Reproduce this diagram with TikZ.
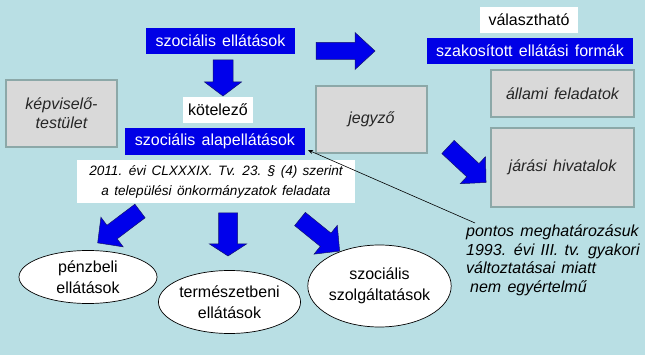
\documentclass[tikz,border=0pt]{standalone}
\usepackage{fontspec}
\setmainfont{Liberation Sans}[WordSpace=1.4]
\usetikzlibrary{shapes.geometric,arrows.meta}
\definecolor{bg}{RGB}{185,223,228}
\definecolor{boxblue}{RGB}{0,0,230}
\definecolor{grayfill}{RGB}{217,217,217}
\definecolor{grayedge}{RGB}{140,168,168}
\definecolor{arrblue}{RGB}{0,0,235}
\definecolor{arredge}{RGB}{20,20,110}
\newcommand\FatArr[6]{%
  \begin{scope}[shift={(#1,#2)},rotate=#3]
    \filldraw[fatarrow] (0,{-#6/2}) -- ({#4-#5},{-#6/2}) -- ({#4-#5},-18.5) -- (#4,0)
      -- ({#4-#5},18.5) -- ({#4-#5},{#6/2}) -- (0,{#6/2}) -- cycle;
  \end{scope}}
\tikzset{
  fatarrow/.style={fill=arrblue, draw=arredge, line width=0.5pt, line join=miter},
  bluebox/.style={fill=boxblue, text=white, inner sep=0pt, font=\fontsize{16}{19}\selectfont},
  whitebox/.style={fill=white, text=black, inner sep=0pt, font=\fontsize{16}{19}\selectfont},
  graybox/.style={fill=grayfill, draw=grayedge, line width=2pt, inner sep=0pt, align=center,
    text=black!85, font=\itshape\fontsize{16}{19}\selectfont},
  oval/.style={ellipse, draw=black, line width=0.7pt, fill=white, inner sep=0pt, align=center,
    font=\fontsize{16}{21}\selectfont},
  note/.style={inner sep=0pt, align=left, font=\itshape\fontsize{16}{18.5}\selectfont}
}
\begin{document}
\begin{tikzpicture}[x=1pt,y=-1pt]
\useasboundingbox (0,0) rectangle (645,355);
\fill[bg] (0,0) rectangle (645,355);

% blue boxes
\node[bluebox, minimum width=149pt, minimum height=26pt] (szoc) at (220.5,41) {szociális ellátások};
\node[bluebox, minimum width=180pt, minimum height=27pt] (alap) at (215,141.5) {szociális alapellátások};
\node[bluebox, minimum width=206pt, minimum height=26pt] (szak) at (530,51) {szakosított ellátási formák};

% white labels
\node[whitebox, minimum width=98pt, minimum height=26pt] (valaszt) at (529,20) {választható};
\node[whitebox, minimum width=70pt, minimum height=26pt] (kotel) at (218,110) {kötelező};
\node[fill=white, inner sep=0pt, align=center, minimum width=278pt, minimum height=43pt,
  font=\itshape\fontsize{13.6}{20}\selectfont] (cite) at (216,181.5)
  {2011. évi CLXXXIX. Tv. 23. § (4) szerint\\a települési önkormányzatok feladata};

% gray boxes
\node[graybox, minimum width=111pt, minimum height=67pt] (kepv) at (61.5,113.5) {képviselő-\\testület};
\node[graybox, minimum width=111pt, minimum height=67pt] (jegy) at (371.5,119.5) {jegyző};
\node[graybox, minimum width=143pt, minimum height=47pt] (allami) at (562.5,93.5) {állami feladatok};
\node[graybox, minimum width=143pt, minimum height=79pt] (jarasi) at (562.5,167.5) {járási hivatalok};

% ellipses
\node[oval, minimum width=138pt, minimum height=53pt] (penz) at (88,277) {pénzbeli\\ellátások};
\node[oval, minimum width=134pt, minimum height=63pt] (term) at (229.5,302) {természetbeni\\ellátások};
\node[oval, minimum width=127pt, minimum height=82pt] (szolg) at (379.5,286) {szociális\\szolgáltatások};

% note
\node[note, anchor=north west] (pontos) at (466,225)
  {pontos meghatározásuk\\1993. évi III. tv. gyakori\\változtatásai miatt\\\hspace*{4pt}nem egyértelmű};
\coordinate (ptr) at (475,223);
\coordinate (tip) at (308,150);
\draw[line width=0.6pt, -{Stealth[length=5pt,width=4pt]}] (ptr) -- (tip);

% thick arrows
\FatArr{223}{60}{-90}{36}{14}{20}
\FatArr{316}{51}{0}{59}{20}{17}
\FatArr{448}{147}{-43}{52}{18}{18}
\FatArr{140}{211}{217}{53}{18}{17}
\FatArr{228}{213}{-90}{43}{12}{19}
\FatArr{300}{219}{-39}{51}{18}{17}
\end{tikzpicture}
\end{document}
